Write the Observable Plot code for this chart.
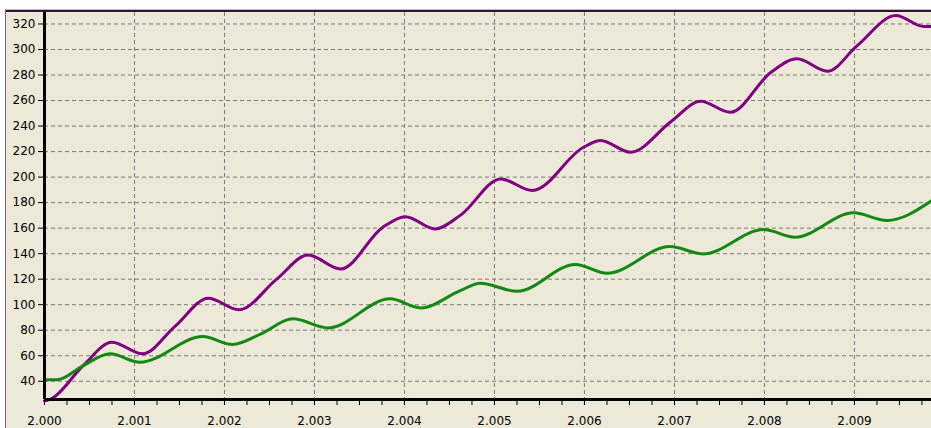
<!DOCTYPE html>
<html>
<head>
<meta charset="utf-8">
<script src="https://cdn.jsdelivr.net/npm/d3@7"></script>
<script src="https://cdn.jsdelivr.net/npm/@observablehq/plot@0.6"></script>
<style>
  html, body { margin: 0; padding: 0; background: #ffffff; width: 931px; height: 428px; overflow: hidden; }
  #bg { position: absolute; left: 5px; top: 9px; width: 925px; height: 418px; background: #ECE9D8;
        border-left: 1px solid #8e5a8e; border-top: 1px solid #d2aed2; }
  #topline { position: absolute; left: 6px; top: 10px; width: 925px; height: 0; border-top: 2px solid #2a1a2a; }
  #chart { position: absolute; left: 0; top: 0; }
</style>
</head>
<body>
<div id="bg"></div>
<div id="topline"></div>
<div id="chart"></div>
<script>
// Purple series
const purpleX = [2.00000, 2.000074, 2.00043, 2.00075, 2.00109, 2.00145, 2.00182, 2.00216, 2.00258, 2.00293,
                 2.00329, 2.00376, 2.00401, 2.00434, 2.00462, 2.00507, 2.00542, 2.00599, 2.00618, 2.00651,
                 2.00697, 2.00729, 2.00762, 2.00807, 2.00836, 2.00870, 2.00903, 2.00946, 2.00977, 2.00986];
const purpleY = [24.5, 26.2, 52.3, 70.6, 61.5, 83, 105, 96, 120, 139,
                 128, 160.7, 169, 159.4, 170, 198.6, 189.5, 223.4, 228.6, 219.5,
                 244, 259.4, 250.8, 282, 292.7, 283, 303, 326.6, 318, 318];
// Green series
const greenX = [2.00000, 2.00014, 2.00043, 2.00073, 2.00106, 2.00176, 2.00209, 2.00240, 2.00276, 2.00315,
                2.00384, 2.00418, 2.00462, 2.00484, 2.00525, 2.00590, 2.00625, 2.00695, 2.00732, 2.00799,
                2.00834, 2.00899, 2.00936, 2.00986];
const greenY = [41.1, 41.1, 52.3, 61.5, 54.9, 75, 68.8, 77, 88.9, 81.8,
                104.6, 97.5, 111, 116.8, 110.5, 131.5, 124.6, 145.6, 139.8, 158.9,
                152.9, 172, 166, 181.6];

const xTicks = [2.000, 2.001, 2.002, 2.003, 2.004, 2.005, 2.006, 2.007, 2.008, 2.009];
const xMinorTicks = d3.range(0, 40).map(i => 2 + i * 0.00025);
const yTicks = [40, 60, 80, 100, 120, 140, 160, 180, 200, 220, 240, 260, 280, 300, 320];
const xDomain = [2.000, 2.009856];
const yDomain = [25.7, 329];

const purple = purpleX.map((x, i) => ({x, y: purpleY[i]}));
const green = greenX.map((x, i) => ({x, y: greenY[i]}));

const gridStyle = {stroke: "#7a7a7a", strokeOpacity: 1, strokeDasharray: "4,3", strokeWidth: 1};

const chart = Plot.plot({
  width: 931,
  height: 428,
  marginLeft: 44,
  marginRight: 0,
  marginTop: 12,
  marginBottom: 29,
  style: {background: "transparent", fontFamily: "DejaVu Sans, sans-serif", fontSize: "12px", color: "#000"},
  x: {domain: xDomain, axis: null},
  y: {domain: yDomain, axis: null},
  marks: [
    Plot.gridY(yTicks, gridStyle),
    Plot.gridX(xTicks, gridStyle),
    Plot.axisY({ticks: yTicks, label: null, tickSize: 6, tickPadding: 3, stroke: "#000", fill: "#000", fontSize: 12}),
    Plot.axisX({ticks: xMinorTicks, label: null, tickSize: 6, text: null, stroke: "#000"}),
    Plot.axisX({ticks: xTicks, label: null, tickSize: 6, tickPadding: 11, tickFormat: d3.format(".3f"), stroke: "#000", fill: "#000", fontSize: 12}),
    Plot.line(purple, {x: "x", y: "y", stroke: "#800080", strokeWidth: 3, curve: "monotone-x"}),
    Plot.line(green, {x: "x", y: "y", stroke: "#128a12", strokeWidth: 3, curve: "monotone-x"}),
    Plot.ruleX([xDomain[0]], {stroke: "#000", strokeWidth: 3}),
    Plot.ruleY([yDomain[0]], {stroke: "#000", strokeWidth: 3})
  ]
});
document.getElementById("chart").appendChild(chart);
</script>
</body>
</html>
